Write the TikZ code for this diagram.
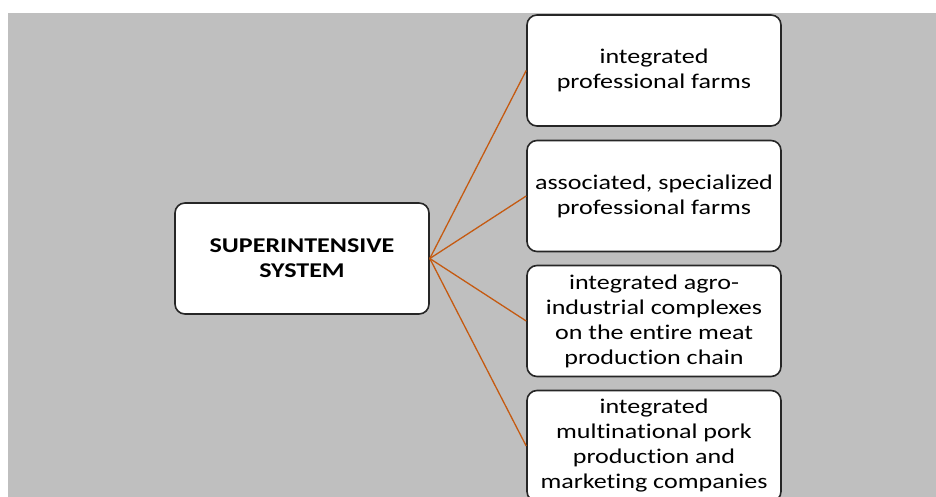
\documentclass[tikz,border=0pt]{standalone}
\usepackage{fontspec}
\setmainfont{Carlito}[FakeStretch=1.24,Ligatures=NoCommon]
\usetikzlibrary{calc}

\definecolor{panel}{RGB}{191,191,191}
\definecolor{linkcol}{RGB}{197,90,17}
\definecolor{edgecol}{RGB}{38,38,38}

\begin{document}
\begin{tikzpicture}[
        x=1pt,y=-1pt,
        box/.style={draw=edgecol,line width=1.6pt,fill=white,rounded corners=10pt,
            minimum width=254pt,minimum height=111pt,align=center,
            font=\fontsize{21}{25}\selectfont,inner sep=2pt},
        link/.style={draw=linkcol,line width=1.3pt}
    ]
        \useasboundingbox (0,0) rectangle (936,497);
        \clip (0,0) rectangle (936,497);
        \fill[white] (0,0) rectangle (936,497);
        \fill[panel] (8,13) rectangle (936,497);

        \node[box] (sys) at (302,258.5) {\textbf{SUPERINTENSIVE}\\\textbf{SYSTEM}};
        \node[box] (f1) at (654,70.5) {integrated\\professional farms};
        \node[box] (f2) at ($(f1) + (0,125.5)$) {associated, specialized\\professional farms};
        \node[box] (f3) at ($(f2) + (0,125)$) {integrated agro-\\industrial complexes\\on the entire meat\\production chain};
        \node[box] (f4) at ($(f3) + (0,125)$) {integrated\\multinational pork\\production and\\marketing companies};

        \draw[link] (sys.east) -- (f1.west);
        \draw[link] (sys.east) -- (f2.west);
        \draw[link] (sys.east) -- (f3.west);
        \draw[link] (sys.east) -- (f4.west);
    \end{tikzpicture}
\end{document}
